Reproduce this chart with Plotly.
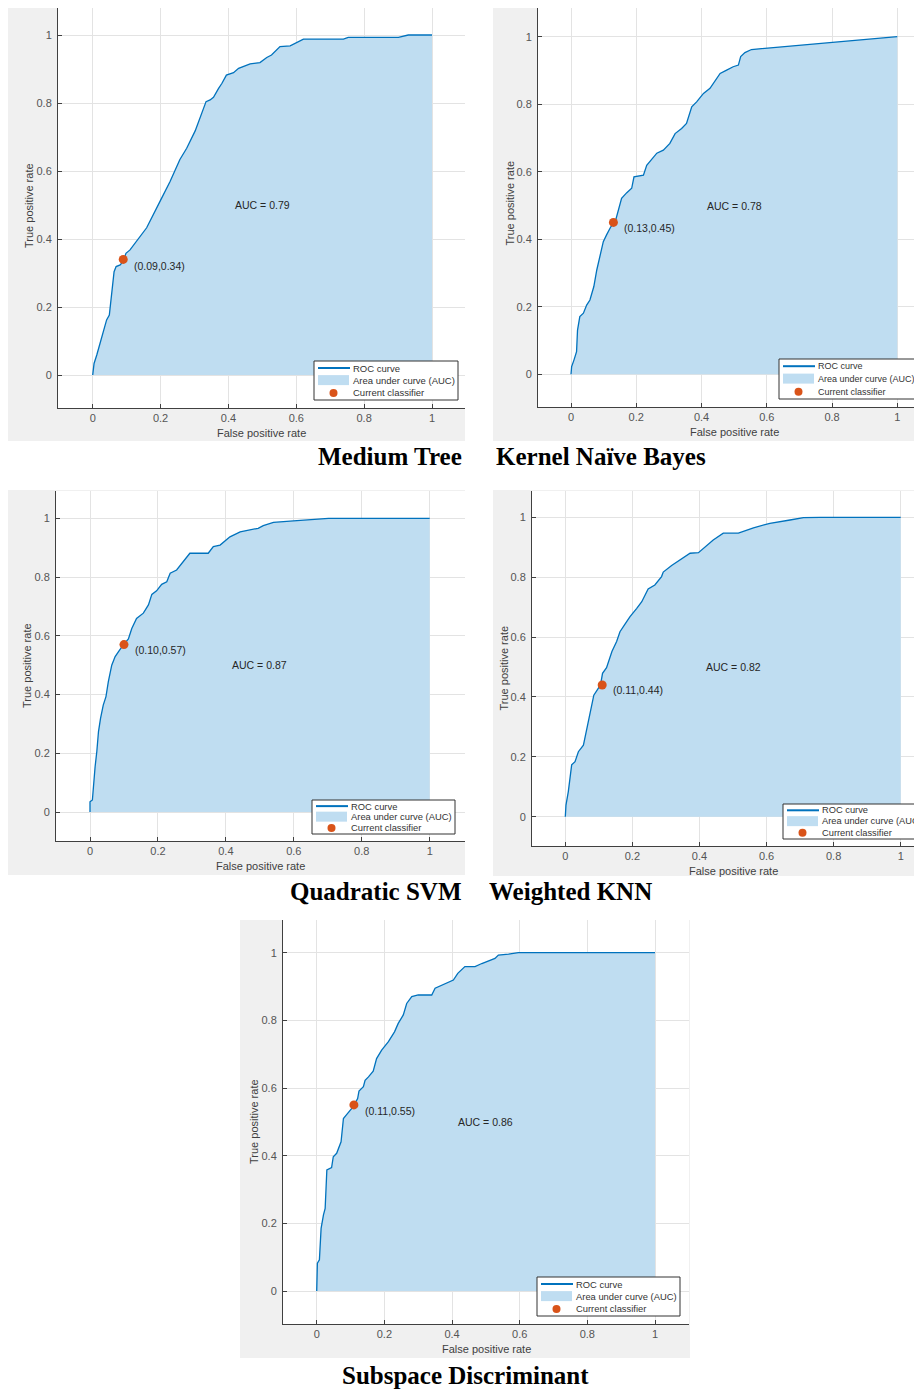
import plotly.graph_objects as go

# The page places the figure 8px from the top-left corner (default body margin),
# so all pixel geometry below is shifted by that offset.
PAGE_W, PAGE_H = 922, 1390
OFF = 8
W, H = PAGE_W - OFF, PAGE_H - OFF

# ---------------- data ----------------
titles = ["Medium Tree", "Kernel Naïve Bayes", "Quadratic SVM", "Weighted KNN", "Subspace Discriminant"]
auc_values = [0.79, 0.78, 0.87, 0.82, 0.86]
op_fpr = [0.09, 0.13, 0.10, 0.11, 0.11]
op_tpr = [0.34, 0.45, 0.57, 0.44, 0.55]
x_ticks = [0, 0.2, 0.4, 0.6, 0.8, 1]
x_tick_labels = ["0", "0.2", "0.4", "0.6", "0.8", "1"]
legend_labels = ["ROC curve", "Area under curve (AUC)", "Current classifier"]

fpr_medium_tree = [0, 0.004, 0.012, 0.027, 0.041, 0.049, 0.056, 0.063, 0.069, 0.076, 0.081, 0.09, 0.098, 0.11,
                   0.139, 0.159, 0.198, 0.228, 0.257, 0.277, 0.302, 0.316, 0.334, 0.346, 0.356, 0.371, 0.381,
                   0.394, 0.415, 0.43, 0.45, 0.464, 0.493, 0.513, 0.527, 0.552, 0.582, 0.601, 0.621, 0.739,
                   0.753, 0.901, 0.93, 1.0]
tpr_medium_tree = [0, 0.034, 0.059, 0.113, 0.162, 0.176, 0.24, 0.304, 0.319, 0.322, 0.324, 0.335, 0.358, 0.368,
                   0.405, 0.433, 0.51, 0.569, 0.634, 0.667, 0.718, 0.755, 0.804, 0.809, 0.817, 0.843, 0.858,
                   0.882, 0.889, 0.902, 0.91, 0.915, 0.919, 0.934, 0.941, 0.966, 0.968, 0.978, 0.988, 0.988,
                   0.993, 0.993, 1.0, 1.0]

fpr_kernel_nb = [0, 0.002, 0.009, 0.017, 0.02, 0.027, 0.038, 0.048, 0.058, 0.07, 0.079, 0.089, 0.099, 0.109,
                 0.122, 0.135, 0.145, 0.155, 0.171, 0.186, 0.193, 0.222, 0.232, 0.247, 0.263, 0.283, 0.303,
                 0.319, 0.339, 0.354, 0.37, 0.385, 0.406, 0.426, 0.436, 0.457, 0.477, 0.497, 0.513, 0.52,
                 0.533, 0.553, 1.0]
tpr_kernel_nb = [0, 0.023, 0.042, 0.067, 0.131, 0.171, 0.181, 0.205, 0.22, 0.26, 0.309, 0.348, 0.393, 0.413,
                 0.437, 0.45, 0.482, 0.521, 0.538, 0.551, 0.585, 0.59, 0.619, 0.635, 0.655, 0.664, 0.684,
                 0.713, 0.728, 0.743, 0.792, 0.807, 0.832, 0.847, 0.861, 0.891, 0.901, 0.911, 0.916, 0.941,
                 0.953, 0.962, 1.0]

fpr_quad_svm = [0, 0, 0.007, 0.01, 0.015, 0.02, 0.025, 0.031, 0.039, 0.047, 0.054, 0.064, 0.074, 0.084, 0.098,
                0.113, 0.123, 0.137, 0.157, 0.172, 0.182, 0.196, 0.211, 0.226, 0.236, 0.255, 0.27, 0.294,
                0.348, 0.363, 0.383, 0.412, 0.442, 0.495, 0.51, 0.54, 0.599, 0.657, 0.702, 1.0]
tpr_quad_svm = [0, 0.035, 0.041, 0.092, 0.154, 0.205, 0.274, 0.319, 0.364, 0.393, 0.444, 0.5, 0.529, 0.546,
                0.569, 0.589, 0.625, 0.659, 0.677, 0.705, 0.741, 0.753, 0.775, 0.784, 0.813, 0.824, 0.847,
                0.881, 0.881, 0.904, 0.909, 0.937, 0.954, 0.966, 0.975, 0.986, 0.991, 0.997, 1.0, 1.0]

fpr_weighted_knn = [0, 0.002, 0.009, 0.019, 0.029, 0.039, 0.054, 0.064, 0.074, 0.085, 0.105, 0.111, 0.123,
                    0.139, 0.153, 0.163, 0.178, 0.193, 0.213, 0.228, 0.247, 0.267, 0.287, 0.292, 0.317, 0.342,
                    0.372, 0.397, 0.412, 0.441, 0.471, 0.516, 0.561, 0.61, 0.67, 0.71, 0.76, 1.0]
tpr_weighted_knn = [0, 0.039, 0.084, 0.173, 0.184, 0.217, 0.239, 0.295, 0.351, 0.406, 0.44, 0.479, 0.498,
                    0.552, 0.585, 0.618, 0.643, 0.668, 0.696, 0.718, 0.761, 0.774, 0.802, 0.817, 0.839, 0.858,
                    0.88, 0.882, 0.897, 0.924, 0.947, 0.947, 0.965, 0.98, 0.991, 0.999, 1.0, 1.0]

fpr_subspace = [0, 0.002, 0.008, 0.013, 0.02, 0.025, 0.03, 0.044, 0.049, 0.059, 0.072, 0.079, 0.089, 0.108,
                0.121, 0.125, 0.138, 0.143, 0.153, 0.167, 0.177, 0.192, 0.212, 0.23, 0.241, 0.256, 0.266,
                0.281, 0.3, 0.34, 0.35, 0.37, 0.404, 0.417, 0.438, 0.468, 0.488, 0.527, 0.537, 0.567, 0.596, 1.0]
tpr_subspace = [0, 0.082, 0.092, 0.185, 0.225, 0.244, 0.358, 0.365, 0.397, 0.407, 0.441, 0.51, 0.522, 0.545,
                0.569, 0.591, 0.604, 0.623, 0.633, 0.65, 0.687, 0.712, 0.737, 0.766, 0.791, 0.816, 0.85,
                0.87, 0.875, 0.875, 0.895, 0.904, 0.919, 0.939, 0.959, 0.959, 0.968, 0.983, 0.993, 0.996, 1.0, 1.0]

curves_fpr = [fpr_medium_tree, fpr_kernel_nb, fpr_quad_svm, fpr_weighted_knn, fpr_subspace]
curves_tpr = [tpr_medium_tree, tpr_kernel_nb, tpr_quad_svm, tpr_weighted_knn, tpr_subspace]

# ---------------- layout (page-pixel geometry of each panel) ----------------
panels = [
    dict(gray=(8, 0, 465, 441), axes=(58, 4, 465, 408), cal=(92.7, 432.0, 375.0, 35.0),
         legend=(314, 361, 458, 400), lfont=9.5, title=(464, 457, "right"), full_right=465, full_top=4),
    dict(gray=(493, 0, 922, 441), axes=(538, 5, 922, 407), cal=(571.0, 897.3, 374.3, 36.7),
         legend=(779, 359, 918, 399), lfont=9.0, title=(494, 457, "left"), full_right=930, full_top=0),
    dict(gray=(7, 490, 465, 875), axes=(56, 491, 465, 841), cal=(90.0, 429.7, 812.0, 518.3),
         legend=(312, 800, 455, 834), lfont=9.4, title=(464, 892, "right"), full_right=465, full_top=491),
    dict(gray=(493, 490, 922, 876), axes=(532, 491, 922, 846), cal=(565.3, 900.7, 816.7, 517.3),
         legend=(783, 804, 924, 839), lfont=9.3, title=(487, 892, "left"), full_right=934, full_top=491),
    dict(gray=(240, 920, 690, 1358), axes=(283, 920, 689, 1324), cal=(316.7, 655.0, 1291.0, 952.7),
         legend=(537, 1277, 680, 1316), lfont=9.4, title=(465, 1375, "center"), full_right=689, full_top=920),
]

ROC_BLUE = "#0072BD"
AUC_FILL = "rgb(191,221,241)"
ORANGE = "#D95319"
SANS = "Liberation Sans, Arial, Helvetica, sans-serif"
SERIF = "Liberation Serif, Times New Roman, serif"


def px(x):
    return (x - OFF) / W


def py(y):
    return 1 - (y - OFF) / H


fig = go.Figure()
shapes = []
annotations = []
layout_axes = {}

for i, p in enumerate(panels):
    n = "" if i == 0 else str(i + 1)
    xa, ya = "x" + n, "y" + n
    L, T, R, B = p["axes"]
    L, T = max(L, OFF), max(T, OFF)
    R, B = min(R, PAGE_W), min(B, OFF + H)
    x0p, x1p, y0p, y1p = p["cal"]
    xr = [(L - x0p) / (x1p - x0p), (R - x0p) / (x1p - x0p)]
    yr = [(y0p - B) / (y0p - y1p), (y0p - T) / (y0p - y1p)]

    # panel background and white plot area
    gL, gT, gR, gB = p["gray"]
    shapes.append(dict(type="rect", xref="paper", yref="paper", x0=px(gL), x1=px(gR), y0=py(gB), y1=py(gT),
                       fillcolor="#f0f0f0", line=dict(width=0), layer="below"))
    shapes.append(dict(type="rect", xref="paper", yref="paper", x0=px(L), x1=px(R), y0=py(B), y1=py(T),
                       fillcolor="white", line=dict(width=0), layer="below"))

    axis_common = dict(showgrid=True, gridcolor="#e3e3e3", gridwidth=1, zeroline=False,
                       showline=True, linecolor="#404040", linewidth=1, mirror=False,
                       ticks="inside", ticklen=4, tickcolor="#404040", tickwidth=1,
                       tickfont=dict(family=SANS, size=11, color="#555555"),
                       tickvals=x_ticks, ticktext=x_tick_labels, fixedrange=True)
    layout_axes["xaxis" + n] = dict(axis_common, domain=[px(L), px(R)], range=xr, anchor=ya)
    layout_axes["yaxis" + n] = dict(axis_common, domain=[py(B), py(T)], range=yr, anchor=xa,
                                    ticklabelstandoff=3)

    # ROC curve with AUC fill
    fig.add_trace(go.Scatter(x=curves_fpr[i], y=curves_tpr[i], mode="lines", fill="tozeroy",
                             fillcolor=AUC_FILL, line=dict(color=ROC_BLUE, width=1.3),
                             xaxis=xa, yaxis=ya, showlegend=False, hoverinfo="skip"))
    # current classifier
    fig.add_trace(go.Scatter(x=[op_fpr[i]], y=[op_tpr[i]], mode="markers",
                             marker=dict(color=ORANGE, size=9, line=dict(width=0)),
                             xaxis=xa, yaxis=ya, showlegend=False, hoverinfo="skip"))

    annotations.append(dict(xref=xa, yref=ya, x=op_fpr[i] + 0.027, y=op_tpr[i] - 0.018,
                            text="(%.2f,%.2f)" % (op_fpr[i], op_tpr[i]), showarrow=False,
                            xanchor="left", yanchor="middle",
                            font=dict(family=SANS, size=10.5, color="#262626")))
    annotations.append(dict(xref=xa, yref=ya, x=0.5, y=0.5, text="AUC = %.2f" % auc_values[i],
                            showarrow=False, xanchor="center", yanchor="middle",
                            font=dict(family=SANS, size=10.5, color="#262626")))

    # axis titles
    fL, fB = p["axes"][0], p["axes"][3]
    annotations.append(dict(xref="paper", yref="paper", x=px((fL + p["full_right"]) / 2), y=py(fB + 25),
                            text="False positive rate", showarrow=False, xanchor="center", yanchor="middle",
                            font=dict(family=SANS, size=11, color="#404040")))
    annotations.append(dict(xref="paper", yref="paper", x=px(fL - 29), y=py((p["full_top"] + fB) / 2),
                            text="True positive rate", showarrow=False, textangle=-90,
                            xanchor="center", yanchor="middle",
                            font=dict(family=SANS, size=11, color="#404040")))

    # legend box
    lL, lT, lR, lB = p["legend"]
    lh = lB - lT
    shapes.append(dict(type="rect", xref="paper", yref="paper", x0=px(lL), x1=px(lR), y0=py(lB), y1=py(lT),
                       fillcolor="white", line=dict(color="#333333", width=1), layer="above"))
    rows = [lT + lh * 0.18, lT + lh * 0.49, lT + lh * 0.82]
    shapes.append(dict(type="line", xref="paper", yref="paper", x0=px(lL + 4), x1=px(lL + 36),
                       y0=py(rows[0]), y1=py(rows[0]), line=dict(color=ROC_BLUE, width=2), layer="above"))
    shapes.append(dict(type="rect", xref="paper", yref="paper", x0=px(lL + 4), x1=px(lL + 35),
                       y0=py(rows[1] + 5), y1=py(rows[1] - 5), fillcolor=AUC_FILL,
                       line=dict(width=0), layer="above"))
    shapes.append(dict(type="circle", xref="paper", yref="paper", x0=px(lL + 15.5), x1=px(lL + 23.5),
                       y0=py(rows[2] + 4), y1=py(rows[2] - 4), fillcolor=ORANGE,
                       line=dict(width=0), layer="above"))
    for r, lab in zip(rows, legend_labels):
        annotations.append(dict(xref="paper", yref="paper", x=px(lL + 37), y=py(r), text=lab,
                                showarrow=False, xanchor="left", yanchor="middle",
                                font=dict(family=SANS, size=p["lfont"], color="#333333")))

    # panel caption
    tx, ty, anchor = p["title"]
    annotations.append(dict(xref="paper", yref="paper", x=px(tx), y=py(ty), text="<b>%s</b>" % titles[i],
                            showarrow=False, xanchor=anchor, yanchor="middle",
                            font=dict(family=SERIF, size=25, color="#000000")))

fig.update_layout(width=W, height=H, margin=dict(l=0, r=0, t=0, b=0),
                  paper_bgcolor="white", plot_bgcolor="rgba(0,0,0,0)",
                  showlegend=False, shapes=shapes, annotations=annotations, **layout_axes)

fig.write_html("out.html")
